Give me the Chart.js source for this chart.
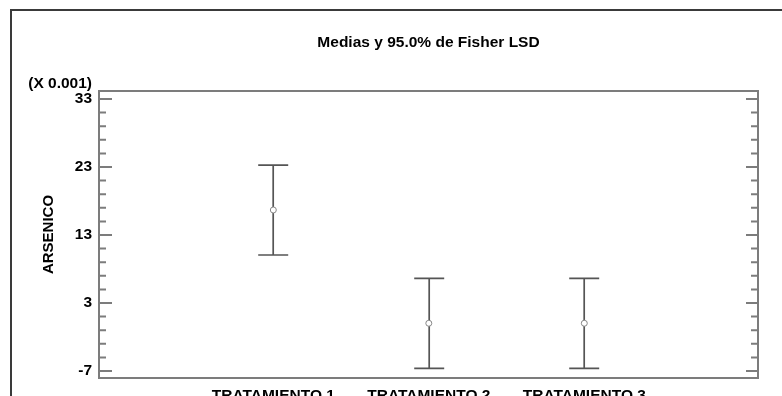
<!DOCTYPE html>
<html><head><meta charset="utf-8">
<script src="https://cdn.jsdelivr.net/npm/chart.js@4"></script>
<style>
html,body{margin:0;padding:0;background:#fff;}
#wrap{position:relative;width:782px;height:396px;overflow:hidden;}
#frame{position:absolute;left:10px;top:9px;width:900px;height:500px;border:2px solid #3a3a3a;box-sizing:border-box;}
canvas{position:absolute;left:0;top:0;}
</style></head><body>
<div id="wrap"><div id="frame"></div><canvas id="c" width="782" height="396"></canvas></div>
<script>
// ---- data ----
const categories = ['TRATAMIENTO 1', 'TRATAMIENTO 2', 'TRATAMIENTO 3'];
const categoryX = [1, 2, 3];
const means = [16.68, 0.02, 0.02];
const lowerLSD = [10.06, -6.60, -6.60];
const upperLSD = [23.29, 6.63, 6.63];
const yMajorTicks = [-7, 3, 13, 23, 33];
const yMinorTicks = [-5, -3, -1, 1, 5, 7, 9, 11, 15, 17, 19, 21, 25, 27, 29, 31];
const titleText = 'Medias y 95.0% de Fisher LSD';
const yAxisTitle = 'ARSENICO';
const yMultiplierText = '(X 0.001)';

const FONT = "'Liberation Sans', Arial, Helvetica, sans-serif";
Chart.defaults.font.family = FONT;

const errorBarPlugin = {
  id: 'errorBars',
  beforeDatasetsDraw(chart) {
    const { ctx, scales: { x, y } } = chart;
    ctx.save();
    ctx.strokeStyle = '#555555';
    ctx.lineWidth = 1.7;
    categoryX.forEach((cx, i) => {
      const px = Math.round(x.getPixelForValue(cx)) + 0.2;
      const pt = y.getPixelForValue(upperLSD[i]);
      const pb = y.getPixelForValue(lowerLSD[i]);
      ctx.beginPath();
      ctx.moveTo(px, pt); ctx.lineTo(px, pb);
      ctx.moveTo(px - 15, pt); ctx.lineTo(px + 15, pt);
      ctx.moveTo(px - 15, pb); ctx.lineTo(px + 15, pb);
      ctx.stroke();
    });
    ctx.restore();
  }
};

const framePlugin = {
  id: 'frameTicks',
  afterDraw(chart) {
    const { ctx, chartArea: a, scales: { y } } = chart;
    ctx.save();
    ctx.strokeStyle = '#7c7c7c';
    ctx.lineWidth = 2;
    ctx.strokeRect(a.left, a.top, a.right - a.left, a.bottom - a.top);
    ctx.beginPath();
    yMajorTicks.forEach(v => {
      const py = y.getPixelForValue(v);
      ctx.moveTo(a.left, py); ctx.lineTo(a.left + 13, py);
      ctx.moveTo(a.right, py); ctx.lineTo(a.right - 12, py);
    });
    yMinorTicks.forEach(v => {
      const py = y.getPixelForValue(v);
      ctx.moveTo(a.left, py); ctx.lineTo(a.left + 7, py);
      ctx.moveTo(a.right, py); ctx.lineTo(a.right - 7, py);
    });
    ctx.stroke();
    ctx.fillStyle = '#000';
    ctx.font = 'bold 15.5px ' + FONT;
    ctx.textAlign = 'right';
    ctx.textBaseline = 'alphabetic';
    ctx.fillText(yMultiplierText, a.left - 7, a.top - 3);
    // chart title, centred over the plot area
    ctx.textAlign = 'center';
    ctx.textBaseline = 'middle';
    ctx.font = 'bold 15.5px ' + FONT;
    ctx.fillText(titleText, (a.left + a.right) / 2, 43);
    ctx.restore();
  }
};

new Chart(document.getElementById('c'), {
  type: 'scatter',
  data: {
    datasets: [{
      data: categoryX.map((cx, i) => ({ x: cx, y: means[i] })),
      pointStyle: 'circle',
      pointRadius: 3,
      pointBorderWidth: 1,
      borderColor: '#888888',
      backgroundColor: '#ffffff',
      showLine: false
    }]
  },
  options: {
    responsive: false,
    animation: false,
    devicePixelRatio: 1,
    layout: { padding: { top: 91, left: 0, right: 24, bottom: 0 } },
    plugins: {
      legend: { display: false },
      tooltip: { enabled: false },
      title: { display: false }
    },
    scales: {
      x: {
        type: 'linear',
        min: -0.121,
        max: 4.117,
        grid: { display: false, drawTicks: false },
        border: { display: false },
        afterBuildTicks: s => { s.ticks = categoryX.map(v => ({ value: v })); },
        afterFit: s => { s.height = 18; },
        ticks: {
          padding: 8,
          color: '#000',
          font: { family: FONT, size: 15.5, weight: 'bold' },
          maxRotation: 0,
          autoSkip: false,
          callback: v => categories[categoryX.indexOf(v)] ?? ''
        }
      },
      y: {
        type: 'linear',
        min: -8.03,
        max: 34.18,
        grid: { display: false, drawTicks: false },
        border: { display: false },
        afterBuildTicks: s => { s.ticks = yMajorTicks.map(v => ({ value: v })); },
        afterFit: s => { s.width = 99; },
        ticks: {
          padding: 7,
          color: '#000',
          font: { family: FONT, size: 15.5, weight: 'bold' },
          callback: v => String(v)
        },
        title: {
          display: true,
          text: yAxisTitle,
          color: '#000',
          font: { family: FONT, size: 15, weight: 'bold' },
          padding: { top: 40, bottom: 0 }
        }
      }
    }
  },
  plugins: [errorBarPlugin, framePlugin]
});
</script>
</body></html>
